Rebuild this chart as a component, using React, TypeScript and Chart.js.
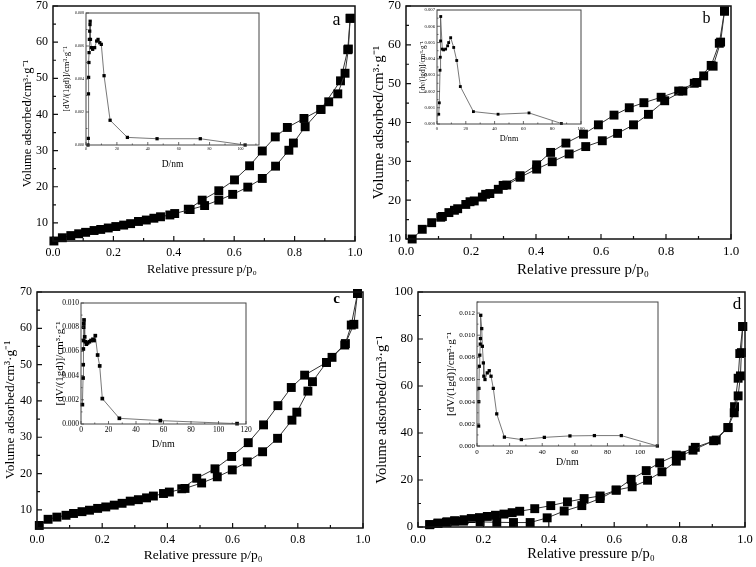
import React, { useEffect, useRef } from "react";
import { Chart, registerables } from "chart.js";
Chart.register(...registerables);

// ---------- Data ----------
const pressureTicks = [0, 0.2, 0.4, 0.6, 0.8, 1.0];

// Panel a
const aAdsP = [0.003, 0.031, 0.059, 0.085, 0.108, 0.136, 0.158, 0.183, 0.208, 0.234, 0.257, 0.283, 0.309, 0.334, 0.356, 0.387, 0.403, 0.454, 0.502, 0.549, 0.595, 0.645, 0.693, 0.737, 0.781, 0.796, 0.835, 0.887, 0.913, 0.943, 0.967, 0.978, 0.984];
const aAdsV = [5.0, 5.9, 6.5, 7.0, 7.4, 7.9, 8.2, 8.6, 9.0, 9.4, 9.8, 10.4, 10.8, 11.3, 11.7, 12.2, 12.6, 13.7, 14.8, 16.3, 17.9, 19.9, 22.3, 25.7, 30.1, 32.1, 36.6, 41.4, 43.5, 45.7, 51.4, 58.1, 66.6];
const aDesP = [0.984, 0.976, 0.952, 0.887, 0.831, 0.776, 0.736, 0.693, 0.651, 0.601, 0.549, 0.494, 0.448];
const aDesV = [66.6, 57.9, 49.3, 41.4, 38.9, 36.4, 33.8, 29.9, 25.8, 21.9, 18.9, 16.3, 13.8];
const aYTicks = [10, 20, 30, 40, 50, 60, 70];
const aPoreD = [1.3, 1.5, 1.6, 1.7, 1.9, 2.0, 2.2, 2.4, 2.6, 2.7, 2.9, 3.5, 4.3, 5.6, 6.9, 7.8, 8.9, 9.9, 11.7, 15.6, 26.8, 46, 74, 103];
const aPoreV = [0.0, 0.0004, 0.0031, 0.0041, 0.005, 0.0056, 0.0064, 0.0069, 0.0073, 0.0075, 0.0064, 0.0059, 0.0058, 0.0059, 0.0063, 0.0064, 0.0062, 0.0061, 0.0042, 0.0015, 0.00046, 0.00038, 0.00038, 0.0];
const aInsetXTicks = [0, 20, 40, 60, 80, 100];
const aInsetYTicks = [0, 0.002, 0.004, 0.006, 0.008];

// Panel b
const bAdsP = [0.019, 0.05, 0.079, 0.107, 0.132, 0.159, 0.184, 0.21, 0.235, 0.258, 0.284, 0.31, 0.351, 0.402, 0.45, 0.502, 0.553, 0.604, 0.651, 0.7, 0.746, 0.796, 0.852, 0.895, 0.916, 0.945, 0.968, 0.98];
const bAdsV = [10.0, 12.5, 14.2, 15.6, 16.8, 17.8, 18.9, 19.8, 20.8, 21.7, 22.8, 23.9, 25.9, 28.0, 29.9, 31.9, 33.8, 35.3, 37.2, 39.4, 42.1, 45.6, 48.1, 50.3, 52.0, 54.5, 60.7, 68.7];
const bDesP = [0.98, 0.964, 0.939, 0.887, 0.839, 0.785, 0.732, 0.687, 0.64, 0.592, 0.546, 0.492, 0.445, 0.402, 0.351, 0.299, 0.245, 0.197, 0.149, 0.112];
const bDesV = [68.7, 60.4, 54.7, 50.1, 48.1, 46.5, 45.1, 43.8, 41.9, 39.4, 37.0, 34.7, 32.3, 29.1, 26.3, 23.8, 21.5, 19.6, 17.4, 15.8];
const bYTicks = [10, 20, 30, 40, 50, 60, 70];
const bPoreD = [1.2, 1.6, 2.1, 2.3, 2.5, 2.6, 3.7, 4.6, 6.0, 7.4, 8.1, 9.5, 11.6, 13.7, 16.2, 25.3, 42.4, 63.9, 86.4];
const bPoreV = [0.0006, 0.0013, 0.0033, 0.0041, 0.0051, 0.0066, 0.0046, 0.00455, 0.0046, 0.0048, 0.005, 0.0053, 0.0047, 0.0039, 0.0023, 0.00076, 0.0006, 0.00068, 0.00003];
const bInsetXTicks = [0, 20, 40, 60, 80, 100];
const bInsetYTicks = [0, 0.001, 0.002, 0.003, 0.004, 0.005, 0.006, 0.007];

// Panel c
const cAdsP = [0.007, 0.034, 0.061, 0.089, 0.112, 0.138, 0.161, 0.186, 0.211, 0.237, 0.261, 0.286, 0.311, 0.336, 0.357, 0.388, 0.406, 0.454, 0.505, 0.553, 0.599, 0.645, 0.692, 0.738, 0.782, 0.797, 0.831, 0.845, 0.888, 0.905, 0.944, 0.972, 0.983];
const cAdsV = [5.7, 7.4, 8.0, 8.5, 9.0, 9.5, 9.9, 10.4, 10.8, 11.3, 11.8, 12.4, 12.8, 13.3, 13.8, 14.5, 14.9, 15.9, 17.4, 19.1, 21.0, 23.2, 26.0, 29.7, 34.7, 36.9, 42.7, 45.3, 50.6, 52.0, 55.4, 61.1, 69.6];
const cDesP = [0.983, 0.964, 0.946, 0.888, 0.821, 0.78, 0.739, 0.695, 0.648, 0.597, 0.546, 0.49, 0.444];
const cDesV = [69.6, 60.9, 55.8, 50.6, 47.1, 43.7, 38.7, 33.4, 28.5, 24.7, 21.3, 18.7, 15.8];
const cYTicks = [10, 20, 30, 40, 50, 60, 70];
const cPoreD = [1.0, 1.5, 1.6, 1.7, 1.8, 1.9, 2.0, 2.2, 2.7, 3.2, 3.9, 4.8, 6.1, 7.3, 8.7, 9.5, 10.4, 12.1, 13.6, 15.5, 27.9, 57.7, 113.5];
const cPoreV = [0.0016, 0.0038, 0.0049, 0.0062, 0.0069, 0.008, 0.0083, 0.0086, 0.0072, 0.0068, 0.0066, 0.0067, 0.0068, 0.0069, 0.007, 0.0069, 0.0073, 0.0057, 0.0048, 0.0021, 0.00047, 0.00028, 0.00003];
const cInsetXTicks = [0, 20, 40, 60, 80, 100, 120];
const cInsetYTicks = [0, 0.002, 0.004, 0.006, 0.008, 0.01];

// Panel d
const dAdsP = [0.036, 0.061, 0.087, 0.112, 0.139, 0.19, 0.241, 0.292, 0.343, 0.395, 0.447, 0.501, 0.557, 0.606, 0.655, 0.702, 0.746, 0.79, 0.805, 0.841, 0.904, 0.948, 0.967, 0.979, 0.986, 0.989, 0.993];
const dAdsV = [1.0, 1.5, 2.0, 2.4, 2.5, 2.2, 2.0, 1.9, 1.9, 3.9, 6.8, 9.1, 12.1, 15.7, 17.1, 19.9, 23.5, 28.0, 30.3, 32.7, 36.7, 42.3, 48.6, 55.8, 64.3, 74.2, 85.3];
const dDesP = [0.993, 0.984, 0.979, 0.968, 0.948, 0.912, 0.848, 0.79, 0.739, 0.698, 0.652, 0.606, 0.557, 0.508, 0.457, 0.406, 0.357, 0.311, 0.288, 0.263, 0.237, 0.212, 0.188, 0.163, 0.141, 0.112, 0.089, 0.061, 0.036];
const dDesV = [85.3, 73.8, 63.3, 51.2, 42.3, 37.0, 33.9, 30.6, 27.3, 24.0, 20.3, 15.7, 13.2, 12.1, 10.7, 9.1, 7.8, 6.7, 6.1, 5.5, 5.0, 4.5, 4.0, 3.6, 3.1, 2.7, 2.2, 1.7, 1.0];
const dYTicks = [0, 20, 40, 60, 80, 100];
const dPoreD = [1.0, 1.1, 1.2, 1.4, 1.7, 2.0, 2.1, 2.3, 2.9, 3.3, 3.9, 4.2, 4.9, 6.3, 7.5, 8.6, 10.0, 12.1, 16.8, 27.2, 41.3, 57, 72, 88.5, 110.6];
const dPoreV = [0.0018, 0.004, 0.0052, 0.0072, 0.0082, 0.0092, 0.0097, 0.0118, 0.0106, 0.009, 0.0075, 0.0063, 0.006, 0.0066, 0.0068, 0.0063, 0.0052, 0.0029, 0.0008, 0.00058, 0.00078, 0.00091, 0.00094, 0.00094, 0.0];
const dInsetXTicks = [0, 20, 40, 60, 80, 100];
const dInsetYTicks = [0, 0.002, 0.004, 0.006, 0.008, 0.01, 0.012];

const yTitleMain = "Volume adsorbed/cm³·g⁻¹";
const xTitleMain = "Relative pressure p/p₀";
const xTitleInset = "D/nm";
const yTitleInsetV = "[dV/(1gd)]/cm³·g⁻¹";
const yTitleInsetB = "[dv/(lgd)]/cm³·g⁻¹";

// ---------- Rendering helpers ----------
const FONT = '"Liberation Serif", "Times New Roman", serif';

const zip = (xs: number[], ys: number[]) => xs.map((x, i) => ({ x, y: ys[i] }));

const frameTicks = {
  id: "frameTicks",
  beforeDraw(chart: any, _a: any, opts: any) {
    if (!opts.fill) return;
    const { ctx, chartArea: a } = chart;
    ctx.save();
    ctx.fillStyle = opts.fill;
    ctx.fillRect(a.left, a.top, a.right - a.left, a.bottom - a.top);
    ctx.restore();
  },
  afterDatasetsDraw(chart: any, _a: any, opts: any) {
    const { ctx, chartArea: a, scales } = chart;
    ctx.save();
    ctx.strokeStyle = opts.color;
    ctx.lineWidth = opts.tickWidth;
    const marks = (scale: any) => {
      const vals = scale.ticks.map((t: any) => t.value);
      const step = vals[1] - vals[0];
      const out: [number, boolean][] = [];
      vals.forEach((v: number) => out.push([v, true]));
      for (let k = -1; k < vals.length; k++) {
        const m = vals[0] + (k + 0.5) * step;
        if (m >= scale.min - 1e-9 && m <= scale.max + 1e-9) out.push([m, false]);
      }
      return out;
    };
    ctx.beginPath();
    for (const [v, major] of marks(scales.x)) {
      const px = scales.x.getPixelForValue(v);
      const len = major ? opts.major : opts.minor;
      ctx.moveTo(px, a.bottom);
      ctx.lineTo(px, a.bottom - len);
    }
    for (const [v, major] of marks(scales.y)) {
      const py = scales.y.getPixelForValue(v);
      const len = major ? opts.major : opts.minor;
      ctx.moveTo(a.left, py);
      ctx.lineTo(a.left + len, py);
    }
    ctx.stroke();
    ctx.lineWidth = opts.lineWidth;
    ctx.strokeRect(a.left, a.top, a.right - a.left, a.bottom - a.top);
    ctx.fillStyle = "#000";
    if (opts.letter) {
      ctx.font = opts.letter.font;
      ctx.textAlign = "center";
      ctx.textBaseline = "alphabetic";
      ctx.fillText(opts.letter.text, opts.letter.x, opts.letter.y);
    }
    if (opts.xTitle) {
      ctx.font = opts.xTitle.font;
      ctx.textAlign = "center";
      ctx.textBaseline = "middle";
      ctx.fillText(opts.xTitle.text, opts.xTitle.x, opts.xTitle.y);
    }
    ctx.restore();
  },
};

type Spec = {
  plot: { l: number; t: number; r: number; b: number };
  xMin: number; xMax: number; yMin: number; yMax: number;
  xTicks: number[]; yTicks: number[];
  xDigits: number; yDigits: number;
  tickFont: number; tickPad: number;
  xTitle: string; yTitle: string;
  xTitleFont: number; yTitleFont: number;
  xTitleY: number; yTitleX: number; xTitleX?: number;
  series: { x: number[]; y: number[] }[];
  pointRadius: number; lineColor: string; lineWidth: number;
  frameColor: string; frameWidth: number; tickMajor: number; tickMinor: number;
  fill?: string;
  letter?: { text: string; x: number; y: number; font: string };
};

function geom(s: Spec) {
  const lhY = s.yTitleFont * 1.2;
  const lhX = s.xTitleFont * 1.2;
  const left = Math.floor(s.yTitleX - lhY / 2 - 1);
  const padTitleY = s.yTitleX - lhY / 2 - left;
  const bottom = Math.ceil(s.xTitleY + lhX / 2 + 1);
  const padTitleX = bottom - (s.xTitleY + lhX / 2);
  const top = s.plot.t - 16;
  const right = s.plot.r + 22;
  return {
    left, top, w: right - left, h: bottom - top,
    padTitleY, padTitleX,
    yWidth: s.plot.l - left,
    xHeight: bottom - s.plot.b,
  };
}

function PanelChart({ spec }: { spec: Spec }) {
  const ref = useRef<HTMLCanvasElement>(null);
  const g = geom(spec);
  useEffect(() => {
    const s = spec;
    const datasets = s.series.map((sr) => ({
      data: zip(sr.x, sr.y),
      showLine: true,
      borderColor: s.lineColor,
      borderWidth: s.lineWidth,
      pointStyle: "rect",
      pointRadius: s.pointRadius,
      pointBackgroundColor: "#000",
      pointBorderColor: "#000",
      pointBorderWidth: 0,
      clip: false,
    }));
    const letter = s.letter
      ? { ...s.letter, x: s.letter.x - g.left, y: s.letter.y - g.top }
      : undefined;
    const customX = s.xTitleX !== undefined;
    const xTitle = customX
      ? { text: s.xTitle, x: (s.xTitleX as number) - g.left, y: s.xTitleY - g.top, font: `${s.xTitleFont}px ${FONT}` }
      : undefined;
    const chart = new Chart(ref.current as HTMLCanvasElement, {
      type: "scatter",
      data: { datasets } as any,
      options: {
        responsive: false,
        animation: false,
        events: [],
        layout: { padding: { left: 0, top: 16, right: 22, bottom: 0 } },
        plugins: {
          legend: { display: false },
          tooltip: { enabled: false },
          frameTicks: {
            color: s.frameColor, lineWidth: s.frameWidth, tickWidth: Math.max(0.8, s.frameWidth * 0.8),
            major: s.tickMajor, minor: s.tickMinor, fill: s.fill, letter, xTitle,
          },
        } as any,
        scales: {
          x: {
            type: "linear", position: "bottom", min: s.xMin, max: s.xMax,
            grid: { display: false, drawTicks: false },
            border: { display: false },
            afterBuildTicks: (sc: any) => { sc.ticks = s.xTicks.map((v) => ({ value: v })); },
            afterFit: (sc: any) => { sc.height = g.xHeight; },
            ticks: {
              font: { family: FONT, size: s.tickFont }, color: "#000", padding: s.tickPad,
              maxRotation: 0, autoSkip: false,
              callback: (v: any) => Number(v).toFixed(s.xDigits),
            },
            title: {
              display: !customX, text: s.xTitle, color: "#000",
              font: { family: FONT, size: s.xTitleFont }, padding: { top: 0, bottom: g.padTitleX },
            },
          },
          y: {
            type: "linear", position: "left", min: s.yMin, max: s.yMax,
            grid: { display: false, drawTicks: false },
            border: { display: false },
            afterBuildTicks: (sc: any) => { sc.ticks = s.yTicks.map((v) => ({ value: v })); },
            afterFit: (sc: any) => { sc.width = g.yWidth; },
            ticks: {
              font: { family: FONT, size: s.tickFont }, color: "#000", padding: s.tickPad,
              autoSkip: false,
              callback: (v: any) => Number(v).toFixed(s.yDigits),
            },
            title: {
              display: true, text: s.yTitle, color: "#000",
              font: { family: FONT, size: s.yTitleFont }, padding: { top: g.padTitleY, bottom: 0 },
            },
          },
        },
      } as any,
      plugins: [frameTicks as any],
    });
    return () => chart.destroy();
  }, []);
  return (
    <canvas
      ref={ref}
      width={g.w}
      height={g.h}
      style={{ position: "absolute", left: g.left, top: g.top, width: g.w, height: g.h }}
    />
  );
}

const mainStyle = {
  xMin: 0, xMax: 1, xTicks: pressureTicks, xDigits: 1, yDigits: 0,
  xTitle: xTitleMain, yTitle: yTitleMain,
  pointRadius: 6.3, lineColor: "#333", lineWidth: 1,
  frameColor: "#111", frameWidth: 1.5, tickMajor: 5, tickMinor: 3,
};

const insetStyle = {
  xMin: 0, xDigits: 0, yMin: 0, yDigits: 3,
  xTitle: xTitleInset,
  lineColor: "#555", lineWidth: 0.8,
  frameColor: "#444", frameWidth: 1, tickMajor: 3, tickMinor: 1.5, fill: "#fff",
};

const mainSpecs: Spec[] = [
  {
    ...mainStyle, plot: { l: 53, t: 6, r: 355, b: 241 }, yMin: 5, yMax: 70, yTicks: aYTicks,
    tickFont: 12, tickPad: 5, xTitleFont: 12.5, yTitleFont: 12.5, xTitleY: 270, xTitleX: 202, yTitleX: 28,
    series: [{ x: aAdsP, y: aAdsV }, { x: aDesP, y: aDesV }],
    letter: { text: "a", x: 336.5, y: 25, font: `18px ${FONT}` },
  },
  {
    ...mainStyle, plot: { l: 406, t: 6, r: 731, b: 239 }, yMin: 10, yMax: 70, yTicks: bYTicks,
    tickFont: 13, tickPad: 5, xTitleFont: 15, yTitleFont: 15, xTitleY: 270, xTitleX: 583, yTitleX: 379,
    series: [{ x: bAdsP, y: bAdsV }, { x: bDesP, y: bDesV }],
    letter: { text: "b", x: 706.5, y: 23, font: `16px ${FONT}` },
  },
  {
    ...mainStyle, plot: { l: 37, t: 292, r: 363, b: 528 }, yMin: 5, yMax: 70, yTicks: cYTicks,
    tickFont: 12, tickPad: 5, xTitleFont: 13.5, yTitleFont: 13.5, xTitleY: 555, xTitleX: 203, yTitleX: 10,
    series: [{ x: cAdsP, y: cAdsV }, { x: cDesP, y: cDesV }],
    letter: { text: "c", x: 336.5, y: 303, font: `bold 15px ${FONT}` },
  },
  {
    ...mainStyle, plot: { l: 418, t: 292, r: 745, b: 527 }, yMin: 0, yMax: 100, yTicks: dYTicks,
    tickFont: 12.5, tickPad: 5, xTitleFont: 14.5, yTitleFont: 14.5, xTitleY: 554, xTitleX: 591, yTitleX: 382,
    series: [{ x: dAdsP, y: dAdsV }, { x: dDesP, y: dDesV }],
    letter: { text: "d", x: 737, y: 309, font: `17px ${FONT}` },
  },
];

const insetSpecs: Spec[] = [
  {
    ...insetStyle, plot: { l: 86, t: 13, r: 259, b: 145 }, xMax: 112, yMax: 0.008,
    xTicks: aInsetXTicks, yTicks: aInsetYTicks, tickFont: 4, tickPad: 2,
    yTitle: yTitleInsetV, xTitleFont: 9.5, yTitleFont: 8.6, xTitleY: 164, yTitleX: 67,
    series: [{ x: aPoreD, y: aPoreV }], pointRadius: 2.3,
  },
  {
    ...insetStyle, plot: { l: 437, t: 10, r: 581, b: 124 }, xMax: 100, yMax: 0.007,
    xTicks: bInsetXTicks, yTicks: bInsetYTicks, tickFont: 4.7, tickPad: 2,
    yTitle: yTitleInsetB, xTitleFont: 8.2, yTitleFont: 7.3, xTitleY: 138.5, yTitleX: 423,
    series: [{ x: bPoreD, y: bPoreV }], pointRadius: 2,
  },
  {
    ...insetStyle, plot: { l: 81, t: 303, r: 246, b: 424 }, xMax: 120, yMax: 0.01,
    xTicks: cInsetXTicks, yTicks: cInsetYTicks, tickFont: 7.5, tickPad: 2,
    yTitle: yTitleInsetV, xTitleFont: 10, yTitleFont: 11, xTitleY: 444, yTitleX: 60,
    series: [{ x: cPoreD, y: cPoreV }], pointRadius: 2.6,
  },
  {
    ...insetStyle, plot: { l: 477, t: 302, r: 658, b: 446 }, xMax: 111, yMax: 0.013,
    xTicks: dInsetXTicks, yTicks: dInsetYTicks, tickFont: 7, tickPad: 2,
    yTitle: yTitleInsetV, xTitleFont: 10, yTitleFont: 11, xTitleY: 462, yTitleX: 451,
    series: [{ x: dPoreD, y: dPoreV }], pointRadius: 2.3,
  },
];

export default function App() {
  return (
    <div
      style={{
        position: "absolute", left: 0, top: 0, width: 756, height: 567,
        background: "#fff", overflow: "hidden",
      }}
    >
      {mainSpecs.map((s, i) => <PanelChart key={"m" + i} spec={s} />)}
      {insetSpecs.map((s, i) => <PanelChart key={"i" + i} spec={s} />)}
    </div>
  );
}
